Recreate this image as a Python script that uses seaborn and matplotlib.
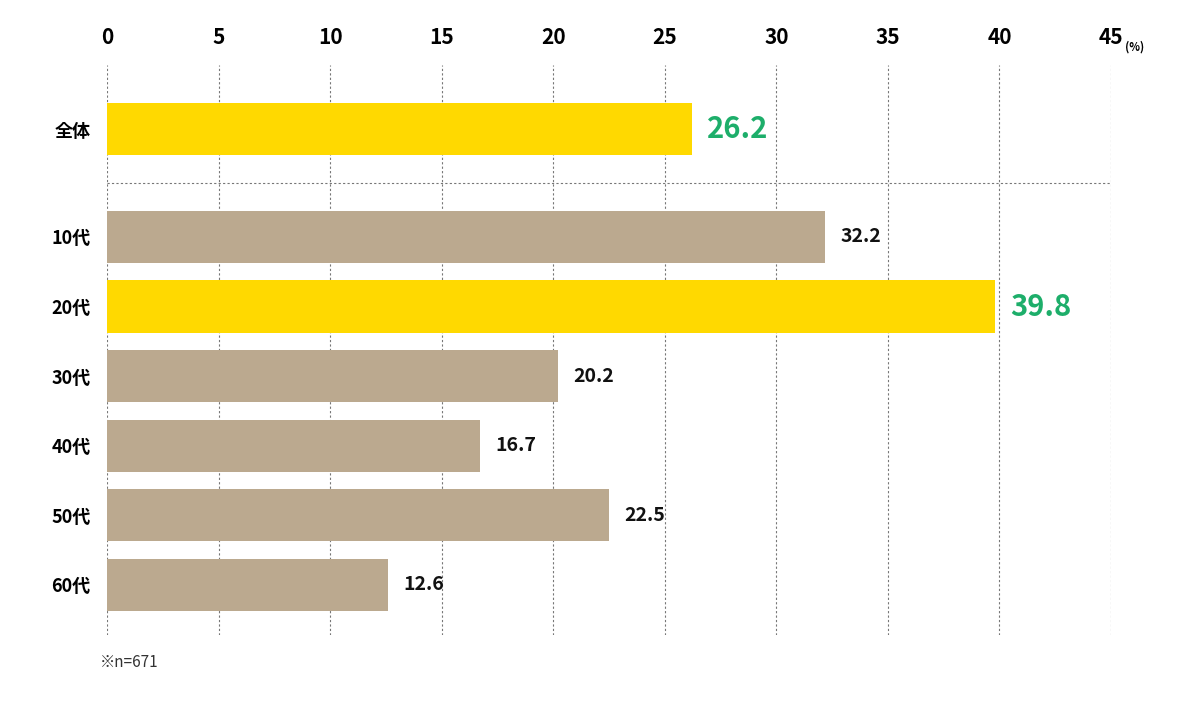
import matplotlib
matplotlib.use("Agg")
import matplotlib.pyplot as plt
import seaborn as sns
import pandas as pd

categories = ["全体", "10代", "20代", "30代", "40代", "50代", "60代"]
values = [26.2, 32.2, 39.8, 20.2, 16.7, 22.5, 12.6]
positions = [-1.55, 0, 1, 2, 3, 4, 5]
highlight = [True, False, True, False, False, False, False]
xticks = [0, 5, 10, 15, 20, 25, 30, 35, 40, 45]

plt.rcParams["font.family"] = "Noto Sans CJK JP"
YEL, TAN, GRN = "#FFD900", "#BBA98F", "#1DAE6A"

df = pd.DataFrame({"cat": categories, "val": values, "pos": positions,
                   "hl": ["a" if h else "b" for h in highlight]})

fig = plt.figure(figsize=(12, 7.08), dpi=100)
ax = fig.add_axes([107/1200, 1-635/708, (1111-107)/1200, 570/708])
sns.barplot(data=df, x="val", y="pos", hue="hl", palette={"a": YEL, "b": TAN},
            orient="h", native_scale=True, width=0.75, dodge=False, legend=False,
            saturation=1, ax=ax)
ax.set_xlim(0, 45)
ax.set_ylim(5.72, -2.47)
ax.set_xticks(xticks)
ax.xaxis.tick_top()
ax.set_xticklabels([str(t) for t in xticks], fontsize=15, fontweight="bold")
ax.tick_params(axis="x", length=0, pad=12)
ax.set_yticks(positions)
ax.set_yticklabels(categories, fontsize=13, fontweight="bold")
ax.tick_params(axis="y", length=0, pad=12)
ax.set_xlabel(""); ax.set_ylabel("")
for s in ax.spines.values():
    s.set_visible(False)
ax.grid(axis="x", color="#777777", linestyle=(0, (2, 2)), linewidth=0.8)
ax.set_axisbelow(True)
ax.axhline(-0.78, color="#777777", linestyle=(0, (2, 2)), linewidth=0.8)
for v, p, h in zip(values, positions, highlight):
    if h:
        ax.text(v + 0.7, p, f"{v}", va="center", ha="left", fontsize=21, fontweight="bold", color=GRN)
    else:
        ax.text(v + 0.7, p, f"{v}", va="center", ha="left", fontsize=14, fontweight="bold", color="#111111")
fig.text(1125/1200, 1-47/708, "(%)", fontsize=8, fontweight="bold", va="center")
fig.text(100/1200, 1-662/708, "※n=671", fontsize=11, va="center", color="#333333")
fig.savefig("out.png", dpi=100)
